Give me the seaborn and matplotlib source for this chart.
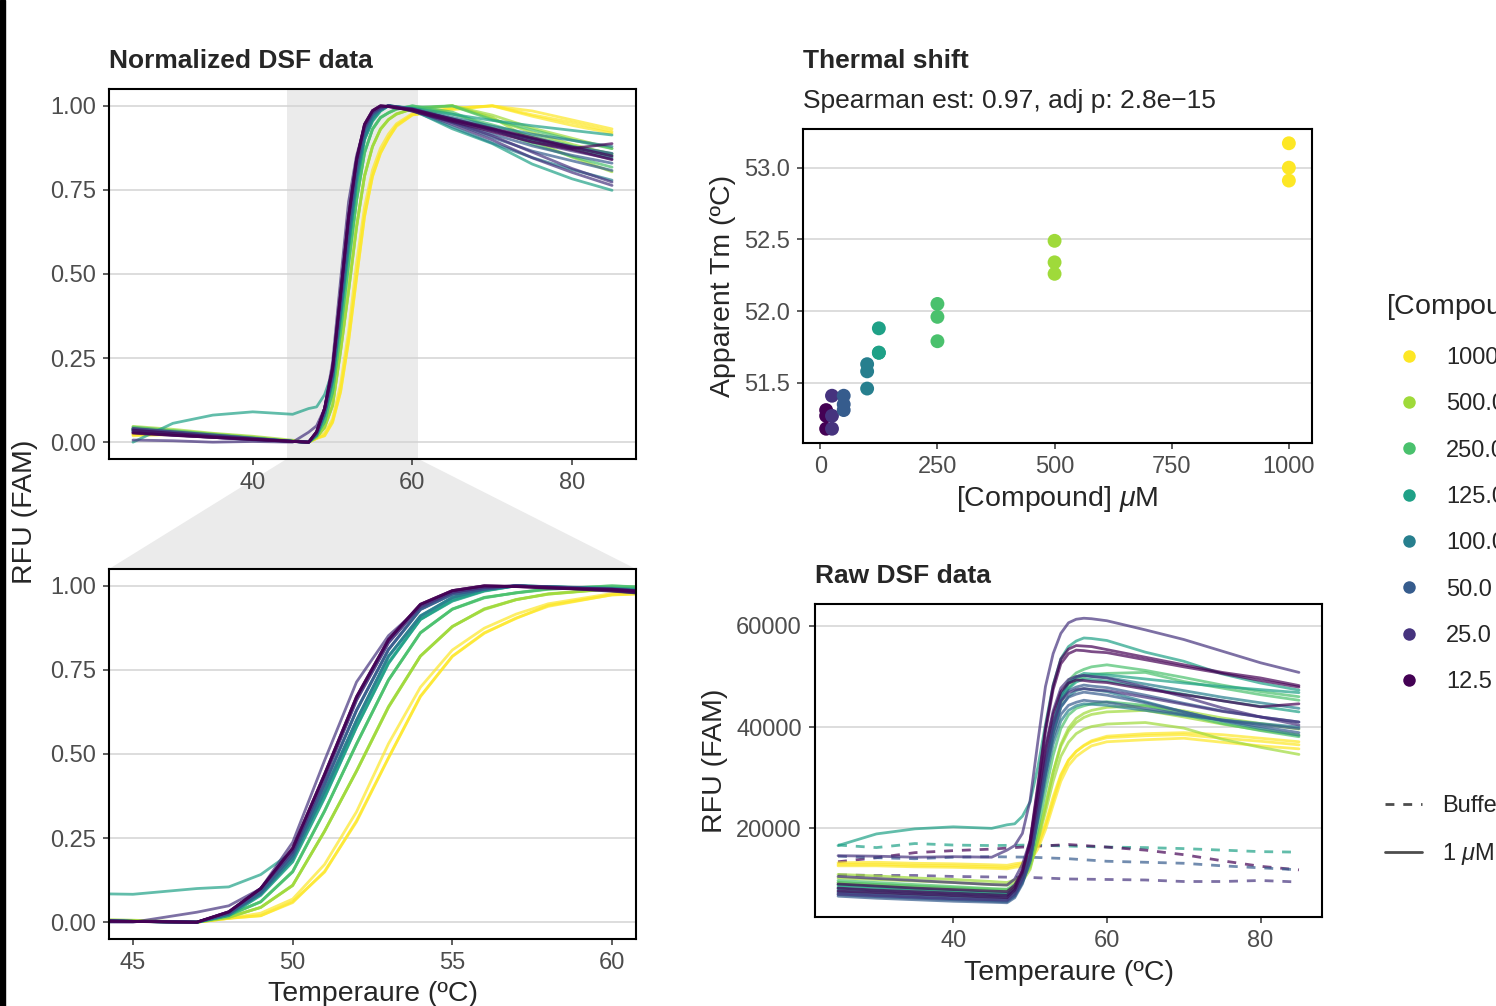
import numpy as np
import pandas as pd
import matplotlib
matplotlib.use('Agg')
import matplotlib.pyplot as plt
import seaborn as sns
from matplotlib.lines import Line2D
from matplotlib.patches import Polygon, Rectangle
from matplotlib.ticker import FormatStrFormatter

W, H = 1496, 1006

# temperatures (ºC) at which the curves were read
temps = [25, 30, 35, 40, 45, 47, 48, 49, 50, 51, 52, 53, 54, 55, 56, 57, 58, 60, 65, 70, 75, 80, 85]
buffer_temps = [25, 30, 35, 40, 45, 50, 55, 60, 65, 70, 75, 80, 85]

conc_labels = ['12.5', '25.0', '50.0', '100.0', '125.0', '250.0', '500.0', '1000.0']
conc_um = [12.5, 25, 50, 100, 125, 250, 500, 1000]
conc_colors = ['#440154', '#46337E', '#365C8D', '#277F8E', '#1FA187', '#4AC16D', '#9FDA3A', '#FDE725']

# raw RFU (FAM), three wells per compound concentration
raw_12_5 = [
    [8200, 7800, 7500, 7200, 6900, 6800, 8300, 11700, 17600, 28500, 39800, 48200, 53400, 55400, 56100, 56000, 55900, 55300, 53800, 52300, 50800, 49700, 48200],
    [7600, 7300, 7000, 6700, 6400, 6300, 7800, 11200, 17100, 27800, 39100, 47400, 52500, 54500, 55200, 55100, 54900, 54700, 53300, 51900, 50600, 49200, 47900],
    [9000, 8600, 8200, 7900, 7600, 7500, 8800, 11700, 16700, 25900, 35500, 42600, 47000, 48700, 49300, 49200, 49000, 48800, 47500, 46400, 45200, 44000, 44600],
]
raw_25 = [
    [14600, 14500, 14300, 14400, 14300, 15700, 16600, 19000, 25500, 37000, 48000, 54500, 58500, 60600, 61300, 61500, 61400, 61000, 59200, 57300, 55000, 52700, 50800],
    [10500, 10100, 9700, 9300, 8900, 8800, 10000, 12900, 17500, 26600, 36100, 43200, 47700, 49400, 50000, 50200, 50000, 49700, 47900, 46000, 43800, 42000, 40400],
    [7000, 6700, 6400, 6100, 5900, 5800, 7100, 10000, 14600, 23800, 33400, 40500, 45100, 46800, 47400, 47600, 47400, 47200, 45900, 44500, 43100, 42000, 41000],
]
raw_50 = [
    [6600, 6200, 5900, 5600, 5400, 5300, 6300, 9000, 13600, 22400, 31500, 39000, 44000, 45900, 46500, 46900, 46700, 46300, 44800, 43000, 41300, 40100, 38900],
    [7200, 6800, 6400, 6100, 5800, 5700, 6700, 9300, 13600, 21900, 30600, 37800, 42500, 44300, 44900, 45300, 45100, 44900, 43700, 42500, 41400, 40500, 39700],
    [6900, 6500, 6200, 5900, 5600, 5500, 6600, 9400, 14100, 23000, 32500, 40200, 45300, 47200, 47900, 48300, 48100, 47800, 46300, 44700, 43200, 42000, 41000],
]
raw_100 = [
    [7800, 7400, 7000, 6700, 6400, 6300, 7400, 10000, 14600, 23400, 32600, 41000, 46200, 48700, 49800, 50200, 50000, 49800, 48500, 47200, 45900, 44800, 43700],
    [7400, 7000, 6700, 6400, 6100, 6000, 7000, 9500, 13900, 22200, 31000, 38900, 43900, 46100, 47200, 47600, 47400, 47000, 45000, 43000, 41200, 39700, 38400],
    [8100, 7700, 7300, 7000, 6700, 6600, 7600, 9800, 13800, 21400, 29400, 36600, 41200, 43300, 44200, 44600, 44500, 44300, 43300, 42300, 41400, 40700, 40000],
]
raw_125 = [
    [16600, 18900, 19900, 20300, 20000, 20700, 20900, 22400, 25200, 32000, 40500, 48300, 53500, 55900, 57000, 57600, 57500, 57100, 54800, 53000, 50500, 48700, 47300],
    [8400, 8000, 7600, 7200, 6900, 6800, 7700, 10300, 14700, 23000, 32200, 40500, 46200, 48600, 49900, 50600, 50500, 50300, 49500, 48700, 48000, 47400, 46800],
    [8800, 8400, 8000, 7600, 7200, 7100, 7900, 10500, 14700, 22800, 31700, 39700, 45300, 47600, 48900, 49500, 49400, 49100, 47800, 46500, 45200, 44100, 43000],
]
raw_250 = [
    [9700, 9300, 8900, 8500, 8100, 8000, 8900, 10700, 14600, 22600, 31500, 39900, 46100, 49200, 50700, 51400, 51900, 52300, 51200, 49800, 48300, 47000, 46000],
    [9300, 8900, 8500, 8100, 7700, 7600, 8500, 10200, 14100, 21900, 30500, 38700, 44800, 47800, 49300, 49900, 50400, 50600, 50800, 49000, 47700, 46400, 45300],
    [8900, 8500, 8100, 7700, 7300, 7200, 8000, 9500, 12900, 19700, 27200, 34400, 39700, 42400, 43700, 44200, 44600, 45000, 44300, 42500, 40700, 39300, 38100],
]
raw_500 = [
    [10900, 10600, 10200, 9900, 9500, 9300, 9800, 10800, 13000, 18500, 24600, 31100, 36200, 39200, 40900, 41900, 42500, 43000, 43300, 42000, 40600, 39400, 38400],
    [9300, 8900, 8600, 8300, 8000, 7900, 8400, 9500, 11900, 17700, 24200, 31100, 36600, 39800, 41700, 42700, 43300, 43900, 44200, 43200, 41800, 40700, 39600],
    [10200, 9900, 9600, 9300, 8900, 8800, 9300, 10200, 12300, 17500, 23200, 29300, 34200, 37000, 38700, 39600, 40100, 40600, 40900, 39800, 37600, 36000, 34600],
]
raw_1000 = [
    [13200, 13300, 13100, 13000, 12800, 12700, 13000, 13200, 14300, 16600, 20600, 25500, 30300, 33400, 35200, 36400, 37300, 38200, 38700, 38900, 38500, 37800, 37100],
    [12900, 12900, 12700, 12600, 12400, 12300, 12600, 13000, 14100, 16800, 20900, 26200, 30600, 33500, 35200, 36300, 37100, 37900, 38300, 38500, 37800, 37200, 36500],
    [12600, 12600, 12400, 12300, 12100, 12000, 12300, 12500, 13500, 15900, 19700, 24600, 29300, 32400, 34200, 35300, 36300, 37100, 37500, 37800, 37000, 36300, 35700],
]
raw_by_conc = [raw_12_5, raw_25, raw_50, raw_100, raw_125, raw_250, raw_500, raw_1000]

# buffer-only wells (dashed)
buffer_rfu = [
    [16700, 16200, 17000, 16700, 16600, 16700, 16500, 16300, 16200, 16000, 15700, 15400, 15300],
    [13400, 14200, 15200, 15600, 15900, 16400, 16800, 16300, 15700, 14800, 13600, 12500, 11800],
    [14500, 14200, 14000, 14300, 14400, 14300, 14000, 13500, 13300, 13100, 12600, 12200, 11800],
    [10800, 10700, 10700, 10500, 10400, 10300, 10000, 9900, 9800, 9500, 9500, 9700, 9400],
]
buffer_colors = ['#1FA187', '#440154', '#365C8D', '#46337E']

# apparent Tm per well
tm_12_5 = [51.31, 51.27, 51.18]
tm_25 = [51.41, 51.27, 51.18]
tm_50 = [51.41, 51.35, 51.31]
tm_100 = [51.63, 51.58, 51.46]
tm_125 = [51.88, 51.71, 51.71]
tm_250 = [52.05, 51.96, 51.79]
tm_500 = [52.49, 52.34, 52.26]
tm_1000 = [53.17, 53.00, 52.91]
tm_by_conc = [tm_12_5, tm_25, tm_50, tm_100, tm_125, tm_250, tm_500, tm_1000]

zoom_lo, zoom_hi = 44.25, 60.75

# ---- tidy tables ----
rows = []
for lab, curves in zip(conc_labels, raw_by_conc):
    for i, vals in enumerate(curves):
        v = np.array(vals, dtype=float)
        norm = (v - v.min()) / (v.max() - v.min())
        for t, r, n in zip(temps, v, norm):
            rows.append({'temp': t, 'rfu': r, 'norm': n, 'conc': lab, 'well': f'{lab}_{i}'})
curves_df = pd.DataFrame(rows)

buf_rows = []
for i, vals in enumerate(buffer_rfu):
    for t, r in zip(buffer_temps, vals):
        buf_rows.append({'temp': t, 'rfu': r, 'buf': str(i)})
buf_df = pd.DataFrame(buf_rows)

tm_rows = []
for lab, um, tms in zip(conc_labels, conc_um, tm_by_conc):
    for tm in tms:
        tm_rows.append({'conc_um': um, 'tm': tm, 'conc': lab})
tm_df = pd.DataFrame(tm_rows)

pal = dict(zip(conc_labels, conc_colors))
line_order = conc_labels[::-1]

sns.set_theme(style='white')
plt.rcParams['font.family'] = ['Liberation Sans', 'DejaVu Sans']
plt.rcParams['mathtext.fontset'] = 'custom'
plt.rcParams['mathtext.rm'] = 'Liberation Sans'
plt.rcParams['mathtext.it'] = 'Liberation Sans:italic'

TICK_FS = 17
LAB_FS = 20.5
TITLE_FS = 19


def rect(l, t, r, b):
    return [l / W, 1 - b / H, (r - l) / W, (b - t) / H]


def style_ax(ax):
    for s in ax.spines.values():
        s.set_color('black')
        s.set_linewidth(1.5)
    ax.tick_params(axis='both', length=4.3, width=1.1, color='#333333',
                   labelsize=TICK_FS, labelcolor='#4d4d4d', pad=5.2,
                   bottom=True, left=True)
    ax.set_axisbelow(True)
    ax.yaxis.grid(True, color='#d3d3d3', lw=1.1)
    ax.xaxis.grid(False)


fig = plt.figure(figsize=(W / 100, H / 100), dpi=100)
ax_top = fig.add_axes(rect(109, 89, 636, 459))
ax_zoom = fig.add_axes(rect(109, 569, 636, 939))
ax_tm = fig.add_axes(rect(803, 129, 1312, 443))
ax_raw = fig.add_axes(rect(815, 604, 1322, 917))

t_span = max(temps) - min(temps)
t_lim = (min(temps) - 0.05 * t_span, max(temps) + 0.05 * t_span)

# normalized, full range
ax_top.axvspan(zoom_lo, zoom_hi, color='#ebebeb', lw=0, zorder=0)
sns.lineplot(data=curves_df, x='temp', y='norm', hue='conc', hue_order=line_order,
             units='well', estimator=None, palette=pal, lw=2.0, alpha=0.7,
             legend=False, ax=ax_top)
ax_top.set_xlim(*t_lim)
ax_top.set_ylim(-0.05, 1.05)
ax_top.set_xticks([40, 60, 80])
ax_top.set_yticks([0, 0.25, 0.5, 0.75, 1.0])
ax_top.yaxis.set_major_formatter(FormatStrFormatter('%.2f'))
ax_top.set_xlabel('')
ax_top.set_ylabel('')
style_ax(ax_top)

# normalized, zoomed
sns.lineplot(data=curves_df, x='temp', y='norm', hue='conc', hue_order=line_order,
             units='well', estimator=None, palette=pal, lw=2.0, alpha=0.7,
             legend=False, ax=ax_zoom)
ax_zoom.set_xlim(zoom_lo, zoom_hi)
ax_zoom.set_ylim(-0.05, 1.05)
ax_zoom.set_xticks([45, 50, 55, 60])
ax_zoom.set_yticks([0, 0.25, 0.5, 0.75, 1.0])
ax_zoom.yaxis.set_major_formatter(FormatStrFormatter('%.2f'))
ax_zoom.set_xlabel('Temperaure (ºC)', fontsize=LAB_FS, labelpad=5)
ax_zoom.set_ylabel('')
style_ax(ax_zoom)

# thermal shift
sns.scatterplot(data=tm_df, x='conc_um', y='tm', hue='conc', palette=pal, s=100,
                edgecolor='none', linewidth=0, legend=False, ax=ax_tm, zorder=3)
x_span = max(conc_um) - min(conc_um)
ax_tm.set_xlim(min(conc_um) - 0.05 * x_span, max(conc_um) + 0.05 * x_span)
tm_min = tm_df['tm'].min()
tm_max = tm_df['tm'].max()
tm_span = tm_max - tm_min
ax_tm.set_ylim(tm_min - 0.05 * tm_span, tm_max + 0.05 * tm_span)
ax_tm.set_xticks([0, 250, 500, 750, 1000])
ax_tm.set_yticks([51.5, 52.0, 52.5, 53.0])
ax_tm.yaxis.set_major_formatter(FormatStrFormatter('%.1f'))
ax_tm.set_xlabel(r'[Compound] $\mu$M', fontsize=LAB_FS, labelpad=4)
ax_tm.set_ylabel('Apparent Tm (ºC)', fontsize=LAB_FS, labelpad=6)
style_ax(ax_tm)

# raw curves
sns.lineplot(data=buf_df, x='temp', y='rfu', hue='buf',
             palette=dict(zip([str(i) for i in range(len(buffer_colors))], buffer_colors)),
             estimator=None, lw=2.0, alpha=0.7, dashes=(3.2, 3.2), legend=False, ax=ax_raw)
sns.lineplot(data=curves_df, x='temp', y='rfu', hue='conc', hue_order=line_order,
             units='well', estimator=None, palette=pal, lw=2.0, alpha=0.7,
             legend=False, ax=ax_raw)
rfu_min = min(curves_df['rfu'].min(), buf_df['rfu'].min())
rfu_max = max(curves_df['rfu'].max(), buf_df['rfu'].max())
rfu_span = rfu_max - rfu_min
ax_raw.set_xlim(*t_lim)
ax_raw.set_ylim(rfu_min - 0.05 * rfu_span, rfu_max + 0.05 * rfu_span)
ax_raw.set_xticks([40, 60, 80])
ax_raw.set_yticks([20000, 40000, 60000])
ax_raw.yaxis.set_major_formatter(FormatStrFormatter('%d'))
ax_raw.set_xlabel('Temperaure (ºC)', fontsize=LAB_FS, labelpad=5.5)
ax_raw.set_ylabel('RFU (FAM)', fontsize=LAB_FS, labelpad=6)
style_ax(ax_raw)

# zoom indicator between the two left panels
inv = fig.transFigure.inverted()
p_tl = inv.transform(ax_top.transData.transform((zoom_lo, ax_top.get_ylim()[0])))
p_tr = inv.transform(ax_top.transData.transform((zoom_hi, ax_top.get_ylim()[0])))
p_bl = inv.transform(ax_zoom.transAxes.transform((0, 1)))
p_br = inv.transform(ax_zoom.transAxes.transform((1, 1)))
fig.add_artist(Polygon([p_tl, p_tr, p_br, p_bl], closed=True, transform=fig.transFigure,
                       facecolor='#ebebeb', edgecolor='none', zorder=-1))

# titles and shared label
fig.text(109 / W, 1 - 68 / H, 'Normalized DSF data', fontsize=TITLE_FS, fontweight='bold', va='baseline')
fig.text(803 / W, 1 - 68 / H, 'Thermal shift', fontsize=TITLE_FS, fontweight='bold', va='baseline')
fig.text(803 / W, 1 - 108 / H, 'Spearman est: 0.97, adj p: 2.8e\u221215', fontsize=TITLE_FS, va='baseline')
fig.text(815 / W, 1 - 583 / H, 'Raw DSF data', fontsize=TITLE_FS, fontweight='bold', va='baseline')
fig.text(25 / W, 1 - 512 / H, 'RFU (FAM)', fontsize=LAB_FS, rotation=90, ha='center', va='center')

# legends
fig.text(1386 / W, 1 - 307 / H, r'[Compound] $\mu$M', fontsize=LAB_FS, va='center')
conc_handles = [Line2D([], [], ls='none', marker='o', markersize=9, color=c, markeredgewidth=0)
                for c in conc_colors[::-1]]
fig.legend(conc_handles, conc_labels[::-1], loc='upper left',
           bbox_to_anchor=(1390 / W, 1 - 347 / H), frameon=False, fontsize=TICK_FS,
           labelspacing=1.03, handlelength=1.57, handletextpad=0.8,
           borderpad=0, borderaxespad=0)
type_handles = [Line2D([], [], color='#4d4d4d', lw=2.0, dashes=(3.2, 3.2)),
                Line2D([], [], color='#4d4d4d', lw=2.0)]
fig.legend(type_handles, ['Buffer', r'1 $\mu$M protein'], loc='upper left',
           bbox_to_anchor=(1385 / W, 1 - 795 / H), frameon=False, fontsize=TICK_FS,
           labelspacing=1.03, handlelength=1.57, handletextpad=0.85,
           borderpad=0, borderaxespad=0)

# dark strip on the left edge
fig.add_artist(Rectangle((0, 0), 5 / W, 1, transform=fig.transFigure, color='black', zorder=5))

fig.savefig('out.png', dpi=100)
